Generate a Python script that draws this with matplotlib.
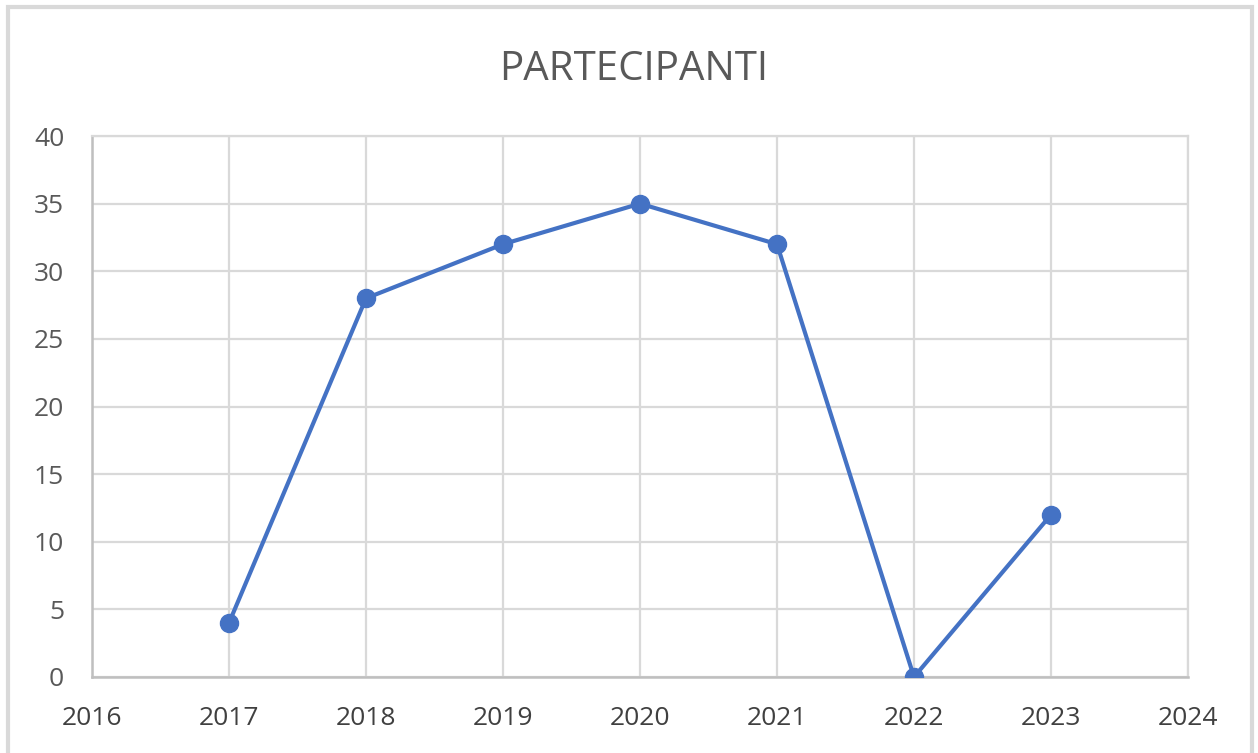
import matplotlib.pyplot as plt
from matplotlib.patches import Rectangle

# -------------------- DATA --------------------
years = [2017, 2018, 2019, 2020, 2021, 2022, 2023]
partecipanti = [4, 28, 32, 35, 32, 0, 12]
x_ticks = [2016, 2017, 2018, 2019, 2020, 2021, 2022, 2023, 2024]
y_ticks = [0, 5, 10, 15, 20, 25, 30, 35, 40]

plt.rcParams['font.family'] = ['Open Sans', 'DejaVu Sans']

fig = plt.figure(figsize=(12.58, 7.53), dpi=100)

# chart border (Excel style frame)
fig.patches.append(Rectangle((8 / 1258, -0.05), 1244 / 1258, 1 - 7 / 753 + 0.05,
                             transform=fig.transFigure, fill=False,
                             edgecolor='#D9D9D9', linewidth=3))

ax = fig.add_axes([92 / 1258, 1 - 677 / 753, (1188 - 92) / 1258, (677 - 136) / 753])

ax.plot(years, partecipanti, color='#4472C4', linewidth=3,
        marker='o', markersize=13, zorder=3)

ax.set_xlim(2016, 2024)
ax.set_ylim(0, 40)
ax.set_xticks(x_ticks)
ax.set_yticks(y_ticks)

ax.grid(True, color='#D9D9D9', linewidth=1.6)
ax.set_axisbelow(True)

for side in ['top', 'right']:
    ax.spines[side].set_color('#D9D9D9')
    ax.spines[side].set_linewidth(1.6)
for side in ['left', 'bottom']:
    ax.spines[side].set_color('#BFBFBF')
    ax.spines[side].set_linewidth(1.8)

ax.tick_params(axis='both', length=0, labelsize=19)
ax.tick_params(axis='x', pad=21, labelcolor='#404040')
ax.tick_params(axis='y', pad=20, labelcolor='#595959')

fig.text(634 / 1258, 1 - 70 / 753, 'PARTECIPANTI', ha='center', va='center',
         fontsize=29, color='#595959')

plt.savefig('out.png', dpi=100)
